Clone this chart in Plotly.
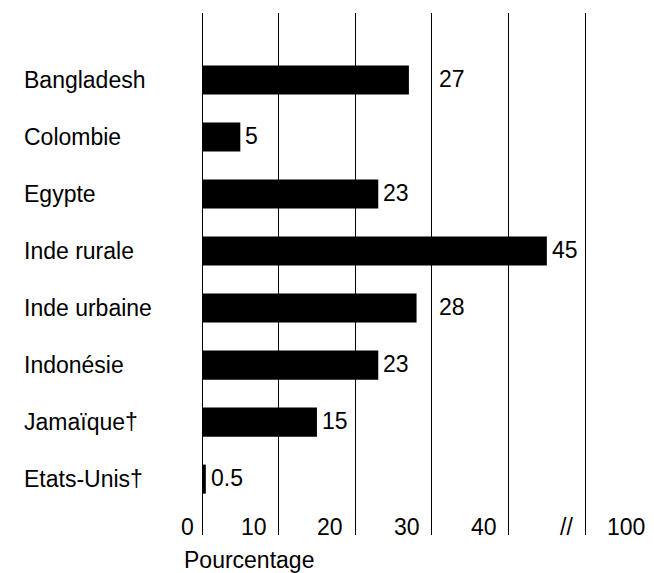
import plotly.graph_objects as go

# data
countries = ["Bangladesh", "Colombie", "Egypte", "Inde rurale",
             "Inde urbaine", "Indonésie", "Jamaïque†", "Etats-Unis†"]
values = [27, 5, 23, 45, 28, 23, 15, 0.5]
value_labels = ["27", "5", "23", "45", "28", "23", "15", "0.5"]
grid_vals = [0, 10, 20, 30, 40, 50]
grid_labels = ["0", "10", "20", "30", "40", "//"]
break_label = "100"

FONT = "Liberation Sans, Arial, Helvetica, sans-serif"
FS = 23

fig = go.Figure()
fig.add_trace(go.Bar(
    x=values, y=list(range(len(countries))), orientation="h",
    marker=dict(color="black", line=dict(width=0)),
    width=0.51, hoverinfo="skip",
))

annotations = []
# country names, left aligned
for i, name in enumerate(countries):
    annotations.append(dict(
        x=-0.464, xref="paper", y=i, yref="y", text=name,
        xanchor="left", yanchor="middle", showarrow=False,
        font=dict(size=FS, color="black", family=FONT),
    ))
# value labels; pushed past a gridline when the bar ends just before one
for i, (v, t) in enumerate(zip(values, value_labels)):
    nxt = (int(v // 10) + 1) * 10
    xpos = nxt if (nxt - v) <= 3 else v
    annotations.append(dict(
        x=xpos, xref="x", y=i, yref="y", text=t,
        xanchor="left", yanchor="middle", showarrow=False,
        xshift=5 if xpos != v else 3, yshift=1,
        font=dict(size=FS, color="black", family=FONT),
    ))
# tick labels sit just left of each gridline
for gv, gl in zip(grid_vals, grid_labels):
    annotations.append(dict(
        x=gv, xref="x", y=0, yref="paper", text=gl,
        xanchor="right", yanchor="middle", showarrow=False,
        xshift=-10 if gv else -6, yshift=8,
        font=dict(size=FS, color="black", family=FONT),
    ))
annotations.append(dict(
    x=grid_vals[-1], xref="x", y=0, yref="paper", text=break_label,
    xanchor="left", yanchor="middle", showarrow=False, xshift=20, yshift=8,
    font=dict(size=FS, color="black", family=FONT),
))
annotations.append(dict(
    x=-0.052, xref="paper", y=0, yref="paper", text="Pourcentage",
    xanchor="left", yanchor="middle", showarrow=False, yshift=-25,
    font=dict(size=FS, color="black", family=FONT),
))

# page body has an 8px margin, so the figure is sized/offset to compensate
fig.update_layout(
    width=646, height=565,
    margin=dict(l=194, r=65, t=5, b=38),
    paper_bgcolor="white", plot_bgcolor="white",
    showlegend=False,
    annotations=annotations,
    xaxis=dict(range=[0, 50.5], tickvals=grid_vals, showticklabels=False,
               showgrid=True, gridcolor="black", gridwidth=1,
               zeroline=True, zerolinecolor="black", zerolinewidth=1,
               showline=False, fixedrange=True),
    yaxis=dict(range=[7.98, -1.175], showticklabels=False, showgrid=False,
               zeroline=False, showline=False, fixedrange=True),
)

fig.write_html("out.html")
